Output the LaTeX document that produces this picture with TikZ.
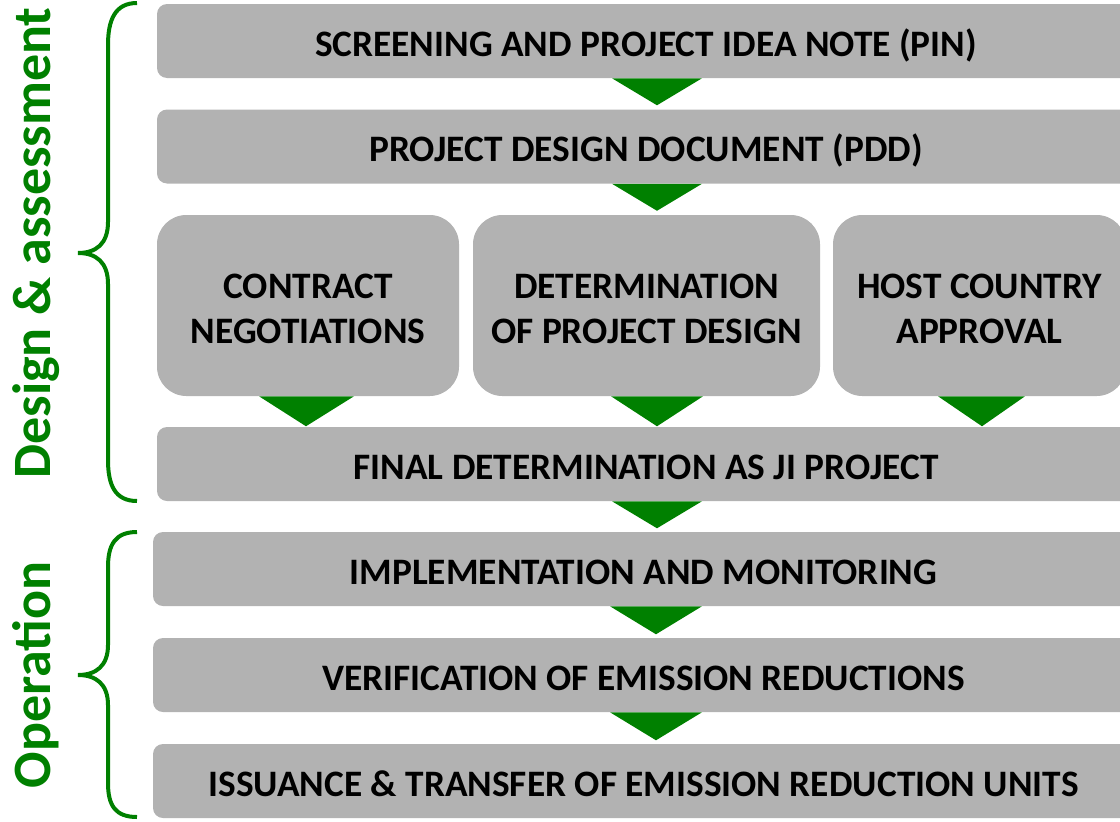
\documentclass[tikz,border=0pt]{standalone}
\usepackage{fontspec}
\setmainfont{Carlito}
\usetikzlibrary{calc}
\definecolor{boxgray}{RGB}{178,178,178}
\definecolor{ggreen}{RGB}{0,128,0}
\begin{document}
\begin{tikzpicture}[x=0.75pt,y=-0.75pt,
 bar/.style={fill=boxgray, rounded corners=7.5pt, inner sep=0pt, text=black,
   font=\fontsize{28}{33.75}\selectfont\bfseries, minimum height=55.5pt,
   text height=22.5pt, text depth=0pt},
 wide/.style={bar, minimum width=733.5pt},
 wider/.style={bar, minimum width=735.75pt},
 tall/.style={fill=boxgray, rounded corners=22pt, inner sep=0pt, align=center, text=black,
   font=\fontsize{28}{33.75}\selectfont\bfseries, minimum height=135.75pt,
   text height=56.25pt, text depth=0pt},
 tri/.style={fill=ggreen},
 brace/.style={draw=ggreen, line width=3pt},
 side/.style={text=ggreen, font=\fontsize{40.5}{48}\selectfont\bfseries, rotate=90, anchor=base, inner sep=0pt}]

% boxes
\node[wide] (b1) at (646,41) {SCREENING AND PROJECT IDEA NOTE (PIN)};
\node[wide] (b2) at (646,146.5) {PROJECT DESIGN DOCUMENT (PDD)};
\node[tall, minimum width=226.5pt] (ba) at (308,305.5) {CONTRACT\\NEGOTIATIONS};
\node[tall, minimum width=260.25pt] (bb) at (646.5,305.5) {DETERMINATION\\OF PROJECT DESIGN};
\node[tall, minimum width=219.75pt] (bc) at (979.5,305.5) {HOST COUNTRY\\APPROVAL};
\node[wide] (b4) at (646,464) {FINAL DETERMINATION AS JI PROJECT};
\node[wider] (b5) at (643.5,569) {IMPLEMENTATION AND MONITORING};
\node[wider] (b6) at (643.5,675) {VERIFICATION OF EMISSION REDUCTIONS};
\node[wider] (b7) at (643.5,781) {ISSUANCE \& TRANSFER OF EMISSION REDUCTION UNITS};

% arrows (triangles)
\fill[tri] ($(b1.south)+(-34,0)$) -- ($(b1.south)+(56,0)$) -- ($(b1.south)+(11,27)$) -- cycle;
\fill[tri] ($(b2.south)+(-34,0)$) -- ($(b2.south)+(56,0)$) -- ($(b2.south)+(11,27)$) -- cycle;
\fill[tri] ($(ba.south)+(-49,0)$) -- ($(ba.south)+(46,0)$) -- ($(ba.south)+(-2,30)$) -- cycle;
\fill[tri] ($(bb.south)+(-35.5,0)$) -- ($(bb.south)+(56.5,0)$) -- ($(bb.south)+(10.5,30)$) -- cycle;
\fill[tri] ($(bc.south)+(-41.5,0)$) -- ($(bc.south)+(45.5,0)$) -- ($(bc.south)+(2.5,30)$) -- cycle;
\fill[tri] ($(b4.south)+(-34,0)$) -- ($(b4.south)+(56,0)$) -- ($(b4.south)+(11,27)$) -- cycle;
\fill[tri] ($(b5.south)+(-33.5,0)$) -- ($(b5.south)+(58.5,0)$) -- ($(b5.south)+(12.5,28)$) -- cycle;
\fill[tri] ($(b6.south)+(-33.5,0)$) -- ($(b6.south)+(58.5,0)$) -- ($(b6.south)+(12.5,28)$) -- cycle;

% braces
\draw[brace] (137,3) .. controls (115,3) and (108,20) .. (108,45) -- (108,222)
  .. controls (108,244) and (96,253) .. (78,253)
  .. controls (96,253) and (108,262) .. (108,284) -- (108,460)
  .. controls (108,485) and (115,501) .. (137,501);
\draw[brace] (137,532) .. controls (115,532) and (108,545) .. (108,567) -- (108,645)
  .. controls (108,666) and (96,675) .. (78,675)
  .. controls (96,675) and (108,684) .. (108,705) -- (108,783)
  .. controls (108,805) and (115,817) .. (137,817);

% side labels
\node[side] (l1) at (50,243) {Design \& assessment};
\node[side] (l2) at (50,675) {Operation};

\pgfresetboundingbox
\useasboundingbox (0,0) rectangle (1120,821);
\end{tikzpicture}
\end{document}
